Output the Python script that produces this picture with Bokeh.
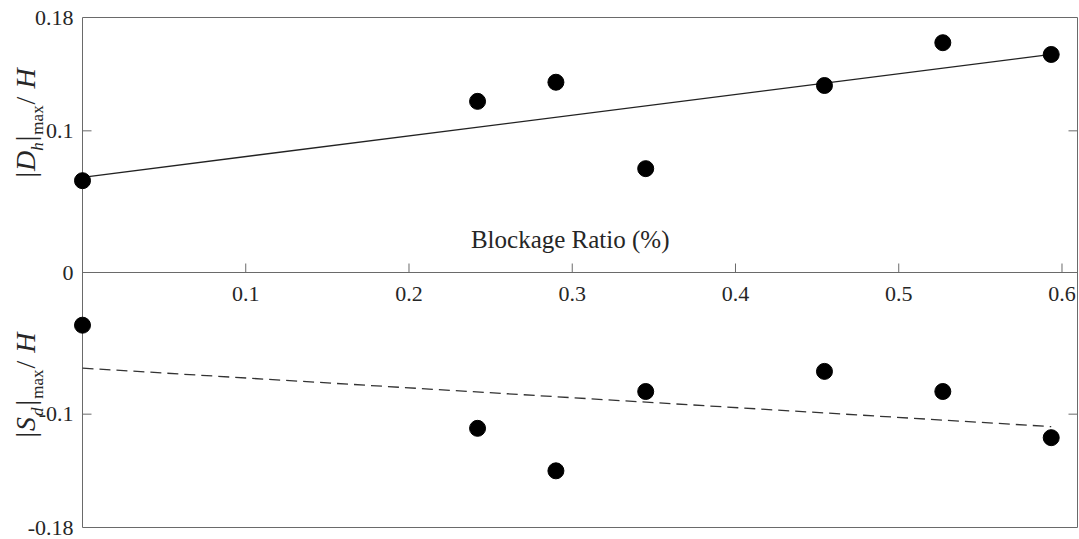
import math
from bokeh.plotting import figure
from bokeh.models import Range1d
from bokeh.core.properties import value
from bokeh.embed import file_html
from bokeh.resources import INLINE

# ---- data ----
blockage = [0.0, 0.242, 0.290, 0.345, 0.4545, 0.527, 0.5934]
dh_max = [0.0648, 0.1208, 0.1343, 0.0733, 0.1320, 0.1622, 0.1539]
sd_max = [-0.0372, -0.1100, -0.1400, -0.0840, -0.0698, -0.0840, -0.1166]
fit_x = [0.0, 0.5934]
dh_fit = [0.0672, 0.1540]
sd_fit = [-0.0675, -0.1088]
x_ticks = [0.1, 0.2, 0.3, 0.4, 0.5, 0.6]
x_tick_labels = ["0.1", "0.2", "0.3", "0.4", "0.5", "0.6"]
y_ticks = [-0.18, -0.1, 0.0, 0.1, 0.18]
y_tick_labels = ["-0.18", "-0.1", "0", "0.1", "0.18"]
inner_y_ticks = [-0.1, 0.1]
x_label = "Blockage Ratio (%)"

# ---- layout constants (pixels) ----
W, H = 1079, 539
BOX_L, BOX_T, BOX_R, BOX_B = 82, 17, 1077, 527
X0, X1 = 0.0, 0.6095
Y0, Y1 = -0.18, 0.18
PPX = (BOX_R - BOX_L) / (X1 - X0)
PPY = (BOX_B - BOX_T) / (Y1 - Y0)

FONT = "Liberation Serif"
AX = "#6a6a6a"
TXT = "#262626"

xr = Range1d(X0 - BOX_L / PPX, X1 + (W - BOX_R) / PPX)
yr = Range1d(Y0 - (H - BOX_B) / PPY, Y1 + BOX_T / PPY)

p = figure(width=W, height=H, x_range=xr, y_range=yr,
           output_backend="svg", toolbar_location=None,
           x_axis_location=None, y_axis_location=None,
           min_border=0)
p.grid.visible = False
p.outline_line_color = None
p.background_fill_color = "white"
p.border_fill_color = "white"

# box and zero axis
p.segment(x0=[X0, X1, X0, X0, X0], y0=[Y0, Y0, Y1, Y0, 0],
          x1=[X0, X1, X1, X1, X1], y1=[Y1, Y1, Y1, Y0, 0],
          line_color=AX, line_width=1)

# y ticks (inside, left and right)
tlx = 9 / PPX
p.segment(x0=[X0] * len(inner_y_ticks), y0=inner_y_ticks,
          x1=[X0 + tlx] * len(inner_y_ticks), y1=inner_y_ticks, line_color=AX)
p.segment(x0=[X1] * len(inner_y_ticks), y0=inner_y_ticks,
          x1=[X1 - tlx] * len(inner_y_ticks), y1=inner_y_ticks, line_color=AX)
p.text(x=[X0] * len(y_ticks), y=y_ticks, text=y_tick_labels, text_font=value(FONT),
       text_font_size="22px", text_color=TXT, text_align="right",
       text_baseline="middle", x_offset=-9)

# x ticks on zero line
tly = 9 / PPY
p.segment(x0=x_ticks, y0=[0] * len(x_ticks), x1=x_ticks, y1=[tly] * len(x_ticks),
          line_color=AX, line_width=1)
p.text(x=x_ticks, y=[0] * len(x_ticks), text=x_tick_labels, text_font=value(FONT),
       text_font_size="22px", text_color=TXT, text_align="center",
       text_baseline="top", y_offset=14)

# x label
p.text(x=[(X0 + X1) / 2 - 0.006], y=[0], text=[x_label], text_font=value(FONT),
       text_font_size="25px", text_color=TXT, text_align="center",
       text_baseline="alphabetic", y_offset=-33)

# fit lines
p.line(fit_x, dh_fit, line_color="#222222", line_width=1.3)
p.line(fit_x, sd_fit, line_color="#333333", line_width=1.3, line_dash="11 6")

# points
p.scatter(blockage, dh_max, size=16, color="black")
p.scatter(blockage, sd_max, size=16, color="black")


# rotated y labels composed of pieces
def px2x(px):
    return X0 + (px - BOX_L) / PPX


def py2y(py):
    return Y1 - (py - BOX_T) / PPY


def rot_label(pieces, start_py, main_px, sub_px):
    cur = start_py
    for text, style, size, sub, width in pieces:
        xp = sub_px if sub else main_px
        p.text(x=[px2x(xp)], y=[py2y(cur)], text=[text], text_font=value(FONT),
               text_font_style=style, text_font_size=f"{size}px",
               text_color=TXT, angle=math.pi / 2,
               text_align="left", text_baseline="alphabetic")
        cur -= width


M, S = 28, 17
dh_pieces = [
    ("|", "normal", M, False, 0.20 * M + 1),
    ("D", "italic", M, False, 0.72 * M),
    ("h", "italic", S, True, 0.50 * S + 1),
    ("|", "normal", M, False, 0.20 * M + 1),
    ("max", "normal", S, True, 1.72 * S + 1),
    (" /", "normal", M, False, 0.53 * M + 1),
    ("H", "italic", M, False, 0.72 * M),
]
sd_pieces = [
    ("|", "normal", M, False, 0.20 * M + 1),
    ("S", "italic", M, False, 0.50 * M + 1),
    ("d", "italic", S, True, 0.50 * S + 2),
    ("|", "normal", M, False, 0.20 * M + 1),
    ("max", "normal", S, True, 1.72 * S + 1),
    (" /", "normal", M, False, 0.53 * M + 1),
    ("H", "italic", M, False, 0.72 * M),
]
rot_label(dh_pieces, 177, 25, 37)
rot_label(sd_pieces, 437, 25, 37)

open("out.html", "w").write(file_html(p, INLINE))
